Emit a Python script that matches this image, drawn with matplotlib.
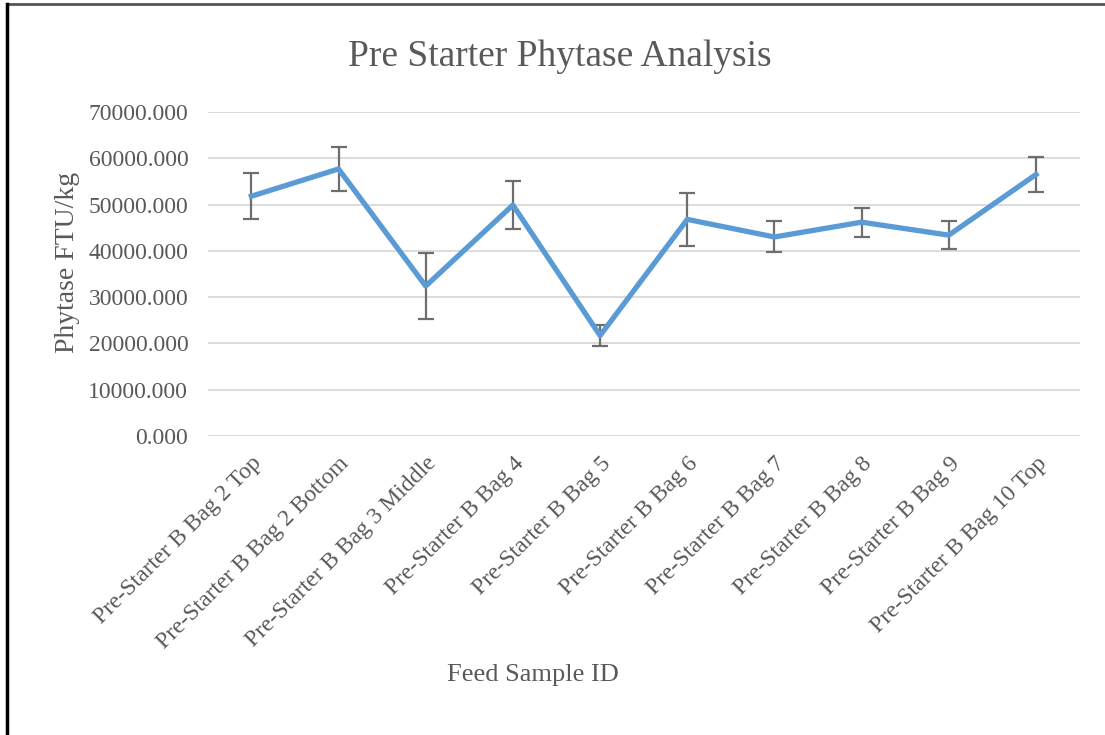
import matplotlib.pyplot as plt
from matplotlib.lines import Line2D

plt.rcParams['font.family'] = ['Liberation Serif', 'DejaVu Serif']

samples = ['Pre-Starter B Bag 2 Top', 'Pre-Starter B Bag 2 Bottom',
           'Pre-Starter B Bag 3 Middle', 'Pre-Starter B Bag 4',
           'Pre-Starter B Bag 5', 'Pre-Starter B Bag 6', 'Pre-Starter B Bag 7',
           'Pre-Starter B Bag 8', 'Pre-Starter B Bag 9',
           'Pre-Starter B Bag 10 Top']
phytase = [51800, 57700, 32400, 49900, 21700, 46800, 43000, 46200, 43400, 56500]
err = [4950, 4800, 7200, 5250, 2250, 5700, 3350, 3150, 3100, 3800]
yticks = [0, 10000, 20000, 30000, 40000, 50000, 60000, 70000]

grey = '#595959'

fig = plt.figure(figsize=(11.05, 7.35), dpi=100)
ax = fig.add_axes([0.188, 0.4068, 0.789, 0.4408])

x = list(range(len(samples)))
ax.errorbar(x, phytase, yerr=err, color='#5b9bd5', lw=3.8,
            ecolor='#6e6e6e', elinewidth=1.6, capsize=6, capthick=1.6, zorder=3)

ax.set_xlim(-0.5, len(samples) - 0.5)
ax.set_ylim(0, 70000)
ax.set_yticks(yticks)
ax.set_yticklabels(['%.3f' % v for v in yticks])
ax.set_xticks(x)
ax.set_xticklabels(samples, rotation=45, ha='right', rotation_mode='anchor')
ax.tick_params(length=0, labelsize=17, colors=grey, pad=14)
ax.tick_params(axis='x', pad=12)
ax.grid(axis='y', color='#d9d9d9', lw=1.3)
ax.set_axisbelow(True)
for s in ax.spines.values():
    s.set_visible(False)

fig.text(0.507, 1 - 57 / 735, 'Pre Starter Phytase Analysis', fontsize=27,
         color=grey, ha='center', va='center')
fig.text(68 / 1105, 1 - 262 / 735, 'Phytase FTU/kg', fontsize=20, color=grey,
         rotation=90, ha='center', va='center')
fig.text(533 / 1105, 1 - 675 / 735, 'Feed Sample ID', fontsize=19, color=grey,
         ha='center', va='center')

# screenshot frame (top and left edges)
fig.add_artist(Line2D([0.006, 1], [0.995, 0.995], color='#555555', lw=2))
fig.add_artist(Line2D([0.006, 0.006], [0, 0.995], color='black', lw=2.5))

fig.savefig('out.png', dpi=100)
